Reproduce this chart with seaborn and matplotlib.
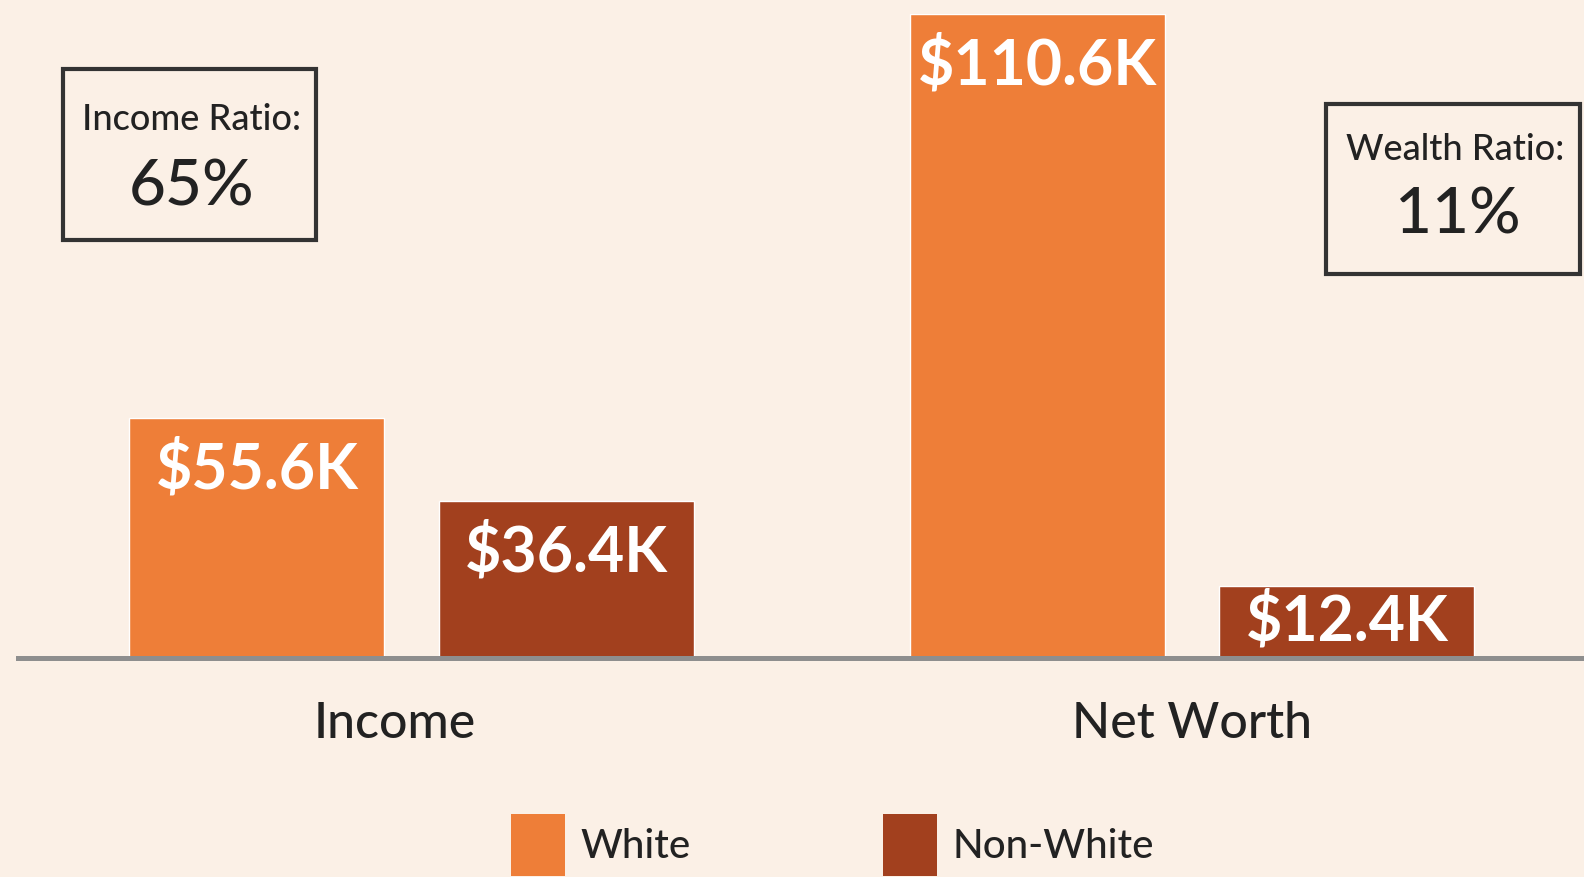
import matplotlib
matplotlib.use("Agg")
import matplotlib.pyplot as plt
from matplotlib.patches import Rectangle, Patch
from matplotlib.transforms import ScaledTranslation
import pandas as pd
import seaborn as sns

# --- data -------------------------------------------------------------
groups = ["Income", "Net Worth"]
races = ["White", "Non-White"]
income_values = [55.6, 36.4]      # $K
networth_values = [110.6, 12.4]   # $K
ratio_titles = ["Income Ratio:", "Wealth Ratio:"]
ratio_values = ["65%", "11%"]

BG = "#FBF0E6"
palette = {"White": "#EE7E38", "Non-White": "#A2401E"}
TEXT = "#222222"

sns.set_theme(style="white")
plt.rcParams["font.family"] = ["Lato", "DejaVu Sans"]

W, H = 1584, 877
fig = plt.figure(figsize=(W / 100, H / 100), dpi=100, facecolor=BG)


def fx(px):
    return px / W


def fy(py):
    return 1 - py / H


base, top = 658, 14
ax_h = (base - top) / H
axL = fig.add_axes([fx(18), fy(base), fx(802 - 18), ax_h])
axR = fig.add_axes([fx(802), fy(base), fx(1584 - 802), ax_h])

# (axes, group, values, x-limits, y-top, tick-label x shift in px)
panels = [
    (axL, groups[0], income_values, (-0.509, 0.505), 149.0, -17),
    (axR, groups[1], networth_values, (-0.505, 0.507), 110.6, 0),
]

LABEL_PT = 45
for ax, group, values, xlim, ytop, shift in panels:
    df = pd.DataFrame({"metric": [group] * len(races), "race": races, "value": values})
    sns.barplot(data=df, x="metric", y="value", hue="race", hue_order=races,
                palette=palette, saturation=1, width=0.8, gap=0.175,
                legend=False, ax=ax)
    ax.set_xlim(*xlim)
    ax.set_ylim(0, ytop)
    ax.set_facecolor("none")
    for side in ["left", "right", "top"]:
        ax.spines[side].set_visible(False)
    ax.spines["bottom"].set_color("#8E8E8E")
    ax.spines["bottom"].set_linewidth(3.6)
    ax.set_xlabel("")
    ax.set_ylabel("")
    ax.set_yticks([])
    ax.tick_params(axis="x", length=0, pad=31, labelsize=36, labelcolor=TEXT)
    for lbl in ax.get_xticklabels():
        lbl.set_fontweight("medium")
        lbl.set_transform(lbl.get_transform()
                          + ScaledTranslation(shift / 100, 0, fig.dpi_scale_trans))

    # value labels inside the top of each bar (centred in short bars)
    px_per_unit = ax_h * H / ytop
    for container, val in zip(ax.containers, values):
        for bar in container:
            h_px = bar.get_height() * px_per_unit
            off_px = min(52, h_px / 2)
            ax.annotate(f"${val:.1f}K",
                        xy=(bar.get_x() + bar.get_width() / 2, bar.get_height()),
                        xytext=(0, -off_px * 0.72), textcoords="offset points",
                        ha="center", va="center", color="white",
                        fontsize=LABEL_PT, fontweight="bold")

# --- ratio call-out boxes ------------------------------------------------
boxes = [
    ((63, 69, 316, 240), (192, 119), (192, 187)),
    ((1326, 104, 1580, 274), (1455, 150), (1458, 215)),
]
for ((x0, y0, x1, y1), tpos, vpos), title, value in zip(boxes, ratio_titles, ratio_values):
    fig.add_artist(Rectangle((fx(x0), fy(y1)), fx(x1 - x0), (y1 - y0) / H,
                             transform=fig.transFigure, fill=False,
                             edgecolor="#333333", linewidth=3))
    fig.text(fx(tpos[0]), fy(tpos[1]), title, ha="center", va="center",
             fontsize=26, fontweight="medium", color=TEXT)
    fig.text(fx(vpos[0]), fy(vpos[1]), value, ha="center", va="center",
             fontsize=46, fontweight="medium", color=TEXT)

# --- legend --------------------------------------------------------------
fs = 29
fs_px = fs * 100 / 72
handles = [Patch(facecolor=palette[r], edgecolor="none") for r in races]
leg = fig.legend(handles, races, loc="upper left",
                 bbox_to_anchor=(fx(511), fy(814)), ncol=2, frameon=False,
                 fontsize=fs, labelcolor=TEXT, borderpad=0, borderaxespad=0,
                 handlelength=54 / fs_px, handleheight=80 / fs_px,
                 handletextpad=15 / fs_px, columnspacing=193 / fs_px)
for t in leg.get_texts():
    t.set_fontweight("medium")

fig.savefig("out.png", dpi=100, facecolor=BG)
